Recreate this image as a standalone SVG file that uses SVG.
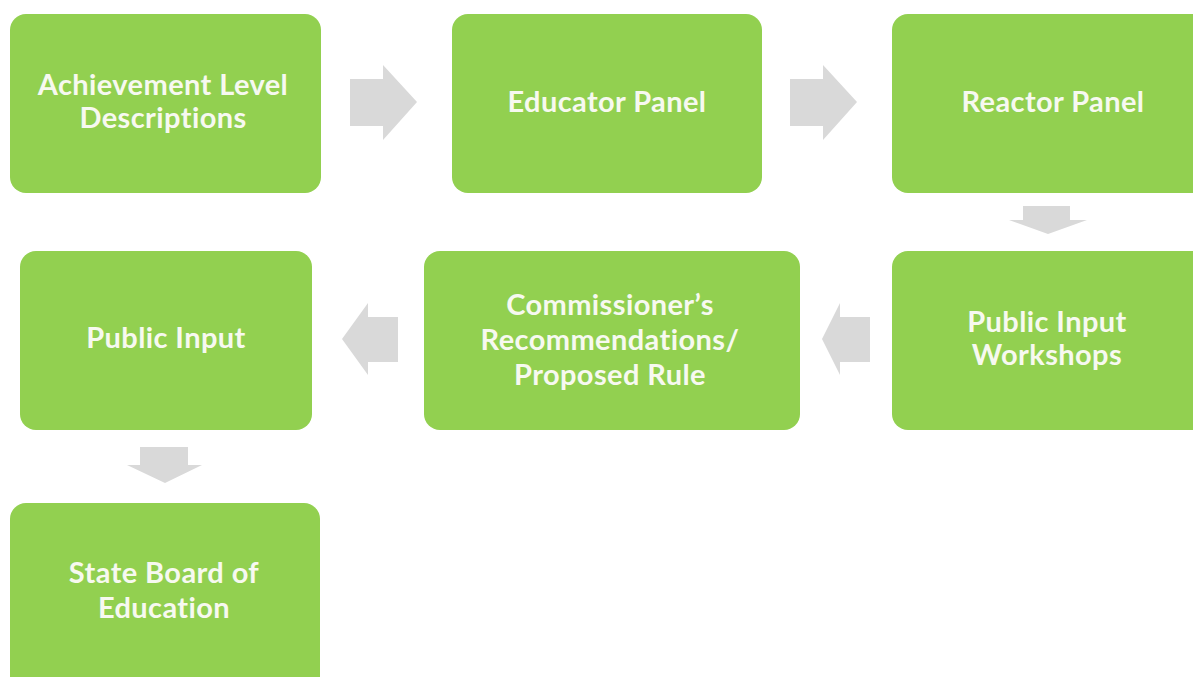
<svg xmlns="http://www.w3.org/2000/svg" width="1193" height="677" viewBox="0 0 1193 677">
<style>
.box{fill:#92d050;}
.t{font-family:Lato,"Open Sans","Liberation Sans",sans-serif;font-weight:bold;font-size:29px;letter-spacing:0.4px;fill:#f7f9f0;text-anchor:middle;}
.arr{fill:#d9d9d9;}
</style>
<rect width="1193" height="677" fill="#ffffff"/>
<g id="connectors">
<polygon class="arr" points="350,79 383,79 383,65 417,102 383,140 383,126 350,126"/>
<polygon class="arr" points="790,79 823,79 823,65 857,102 823,140 823,126 790,126"/>
<polygon class="arr" points="1023,206 1070,206 1070,220 1087,220 1048,234 1009,220 1023,220"/>
<polygon class="arr" points="870,317 840,317 840,303 822,339 840,375 840,362 870,362"/>
<polygon class="arr" points="398,317 368,317 368,303 342,339 368,375 368,362 398,362"/>
<polygon class="arr" points="140,447 188,447 188,465 202,465 165,483 127,465 140,465"/>
</g>
<g id="n1"><rect class="box" x="10" y="14" width="311" height="179" rx="16"/><text class="t" x="163" y="95">Achievement Level</text><text class="t" x="163" y="128">Descriptions</text></g>
<g id="n2"><rect class="box" x="452" y="14" width="310" height="179" rx="16"/><text class="t" x="607" y="112">Educator Panel</text></g>
<g id="n3"><rect class="box" x="892" y="14" width="322" height="179" rx="16"/><text class="t" x="1053" y="112">Reactor Panel</text></g>
<g id="n4"><rect class="box" x="892" y="251" width="322" height="179" rx="16"/><text class="t" x="1047" y="332">Public Input</text><text class="t" x="1047" y="365">Workshops</text></g>
<g id="n5"><rect class="box" x="424" y="251" width="376" height="179" rx="16"/><text class="t" x="610" y="315">Commissioner’s</text><text class="t" x="610" y="350">Recommendations/</text><text class="t" x="610" y="385">Proposed Rule</text></g>
<g id="n6"><rect class="box" x="20" y="251" width="292" height="179" rx="16"/><text class="t" x="166" y="348">Public Input</text></g>
<g id="n7"><rect class="box" x="10" y="503" width="310" height="190" rx="16"/><text class="t" x="164" y="583">State Board of</text><text class="t" x="164" y="618">Education</text></g>
</svg>
